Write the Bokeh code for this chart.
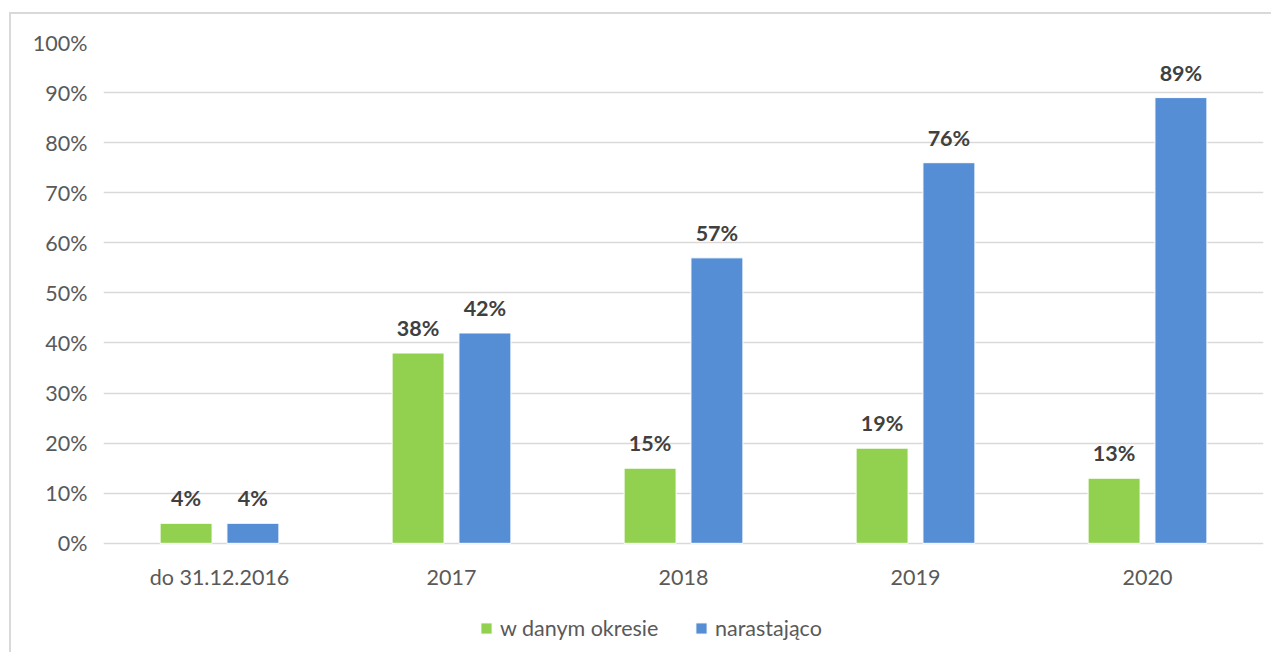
from bokeh.plotting import figure
from bokeh.models import (ColumnDataSource, FactorRange, Legend, LegendItem,
                          FixedTicker, NumeralTickFormatter, Range1d)
from bokeh.transform import dodge
from bokeh.core.properties import value
from bokeh.embed import file_html
from bokeh.resources import INLINE

categories = ["do 31.12.2016", "2017", "2018", "2019", "2020"]
w_danym_okresie = [4, 38, 15, 19, 13]
narastajaco = [4, 42, 57, 76, 89]
series_names = ["w danym okresie", "narastająco"]
colors = ["#92D050", "#558ED5"]
y_ticks = [i / 10 for i in range(11)]

src = ColumnDataSource(dict(
    cat=categories,
    zero=[0] * len(categories),
    g=[v / 100 for v in w_danym_okresie],
    b=[v / 100 for v in narastajaco],
    gl=[f"{v}%" for v in w_danym_okresie],
    bl=[f"{v}%" for v in narastajaco],
))

FONT = "Lato"
p = figure(x_range=FactorRange(*categories, range_padding=0),
           y_range=Range1d(-0.22, 1.0),
           width=1262, height=640, output_backend="svg", toolbar_location=None,
           min_border_left=92, min_border_right=10, min_border_top=28,
           min_border_bottom=1)
p.outline_line_color = None
p.background_fill_color = "white"
p.border_fill_color = "white"
p.styles = {"margin-left": "9px", "margin-top": "12px",
            "border-left": "2px solid #D9D9D9", "border-top": "2px solid #D9D9D9"}

bw = 0.224
off = 0.144
rg = p.vbar(x=dodge("cat", -off, range=p.x_range), top="g", width=bw, source=src,
            fill_color=colors[0], line_color="white", line_width=1)
rb = p.vbar(x=dodge("cat", off, range=p.x_range), top="b", width=bw, source=src,
            fill_color=colors[1], line_color="white", line_width=1)

for col, lab, dx in (("g", "gl", -off), ("b", "bl", off)):
    p.text(x=dodge("cat", dx, range=p.x_range), y=col, text=lab, source=src,
           text_align="center", text_baseline="middle", y_offset=-25,
           text_font=value(FONT), text_font_style="bold", text_font_size="21.5px",
           text_color="#404040")

# category labels under the zero line
p.text(x="cat", y="zero", text="cat", source=src, text_align="center",
       text_baseline="middle", y_offset=34, text_font=value(FONT),
       text_font_size="21.5px", text_color="#595959")

p.xaxis.visible = False
p.yaxis.ticker = FixedTicker(ticks=y_ticks)
p.yaxis.formatter = NumeralTickFormatter(format="0%")
p.ygrid.ticker = FixedTicker(ticks=y_ticks)
p.ygrid.grid_line_color = "#D9D9D9"
p.ygrid.grid_line_width = 1.5
p.xgrid.grid_line_color = None
ax = p.yaxis[0]
ax.axis_line_color = None
ax.major_tick_line_color = None
ax.minor_tick_line_color = None
ax.major_label_text_font = FONT
ax.major_label_text_font_size = "21.5px"
ax.major_label_text_color = "#595959"
ax.major_label_standoff = 10

legend = Legend(items=[LegendItem(label=series_names[0], renderers=[rg]),
                       LegendItem(label=series_names[1], renderers=[rb])],
                orientation="horizontal", location=(376, 12),
                border_line_color=None, background_fill_alpha=0,
                label_text_font=FONT, label_text_font_size="21.5px",
                label_text_color="#595959", glyph_width=14, glyph_height=14,
                spacing=28, label_standoff=7, label_width=166)
p.add_layout(legend, "center")

open("out.html", "w").write(file_html(p, INLINE))
